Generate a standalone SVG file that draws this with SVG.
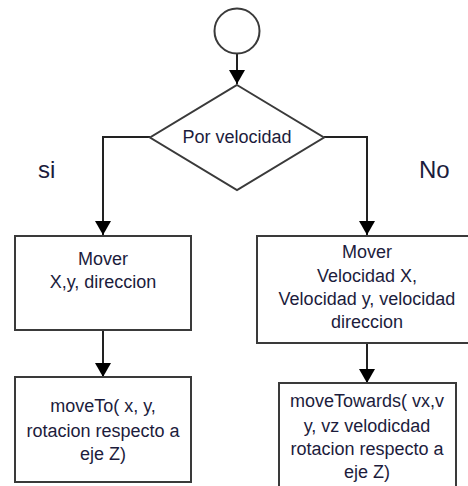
<svg xmlns="http://www.w3.org/2000/svg" width="468" height="486" viewBox="0 0 468 486">
  <defs>
    <marker id="arrow" viewBox="0 0 14 16" refX="14" refY="8" markerWidth="14" markerHeight="16" markerUnits="userSpaceOnUse" orient="auto">
      <path d="M0,0 L14,8 L0,16 Z" fill="#000"/>
    </marker>
    <style>
      .shape { fill: #fff; stroke: #3a3a3a; stroke-width: 2; }
      .edge { fill: none; stroke: #222; stroke-width: 2; }
      .label { font-family: "Liberation Sans", Arial, sans-serif; font-size: 18px; fill: #1c1c3c; text-anchor: middle; }
      .branch { font-family: "Liberation Sans", Arial, sans-serif; font-size: 24px; fill: #1c1c3c; }
    </style>
  </defs>

  <rect width="468" height="486" fill="#fff"/>

  <!-- connectors -->
  <g id="connectors">
    <path class="edge" d="M237,54 L237,84" marker-end="url(#arrow)"/>
    <path class="edge" d="M150,137 L103,137 L103,235" marker-end="url(#arrow)"/>
    <path class="edge" d="M324,137 L367,137 L367,235" marker-end="url(#arrow)"/>
    <path class="edge" d="M103,330 L103,377" marker-end="url(#arrow)"/>
    <path class="edge" d="M367,343 L367,383" marker-end="url(#arrow)"/>
  </g>

  <!-- branch labels -->
  <text class="branch" x="38" y="178">si</text>
  <text class="branch" x="419" y="178">No</text>

  <g id="start">
    <circle class="shape" cx="237" cy="31" r="22.5"/>
  </g>

  <g id="decision">
    <polygon class="shape" points="237,85 324,137.5 237,190 150,137.5"/>
    <text class="label" x="237" y="143">Por velocidad</text>
  </g>

  <g id="move-position">
    <rect class="shape" x="15" y="236" width="176" height="94"/>
    <text class="label" x="103" y="265">Mover</text>
    <text class="label" x="103" y="288">X,y, direccion</text>
  </g>

  <g id="move-velocity">
    <rect class="shape" x="257" y="236" width="222" height="107"/>
    <text class="label" x="367" y="258">Mover</text>
    <text class="label" x="367" y="282">Velocidad X,</text>
    <text class="label" x="367" y="305">Velocidad y, velocidad</text>
    <text class="label" x="367" y="328">direccion</text>
  </g>

  <g id="move-to">
    <rect class="shape" x="15" y="377" width="176" height="105"/>
    <text class="label" x="103" y="412">moveTo( x, y,</text>
    <text class="label" x="103" y="437">rotacion respecto a</text>
    <text class="label" x="103" y="460">eje Z)</text>
  </g>

  <g id="move-towards">
    <rect class="shape" x="279" y="383" width="177" height="110"/>
    <text class="label" x="367" y="407">moveTowards( vx,v</text>
    <text class="label" x="367" y="432">y, vz velodicdad</text>
    <text class="label" x="367" y="455">rotacion respecto a</text>
    <text class="label" x="367" y="478">eje Z)</text>
  </g>
</svg>
